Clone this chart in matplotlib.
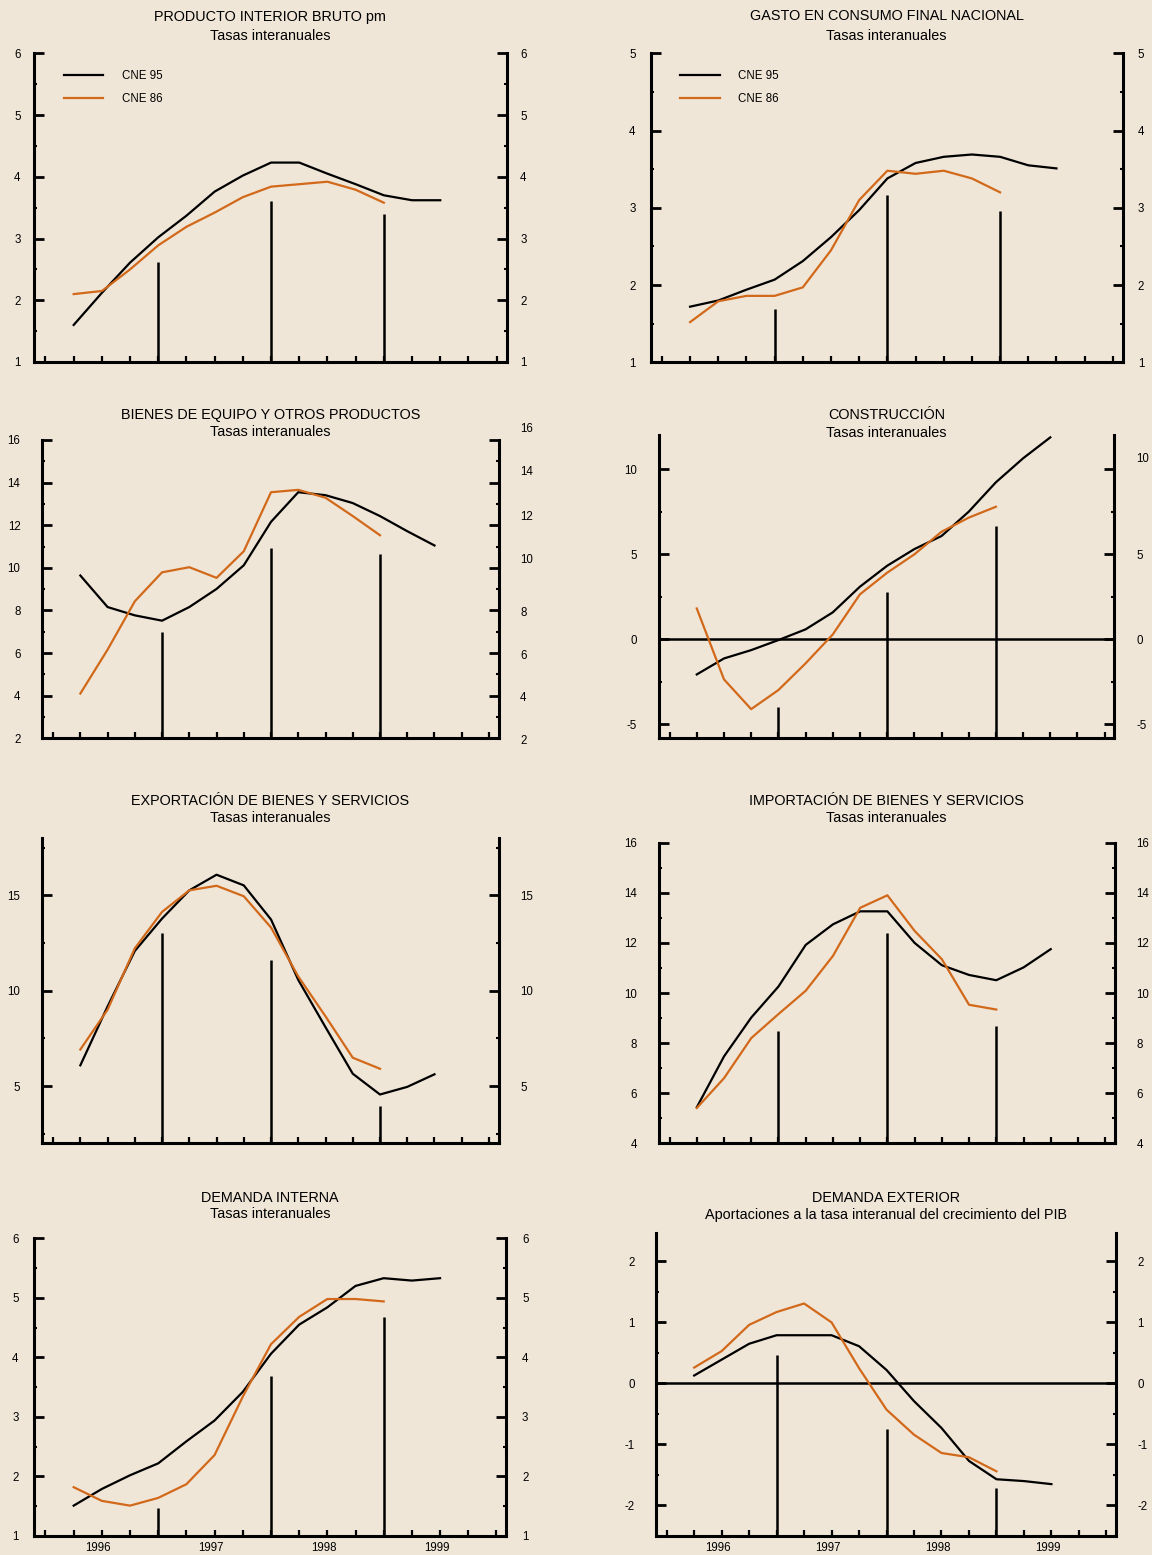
import numpy as np
import matplotlib
matplotlib.use("Agg")
import matplotlib.pyplot as plt
from matplotlib.ticker import MultipleLocator, FixedLocator
from matplotlib.transforms import blended_transform_factory

plt.rcParams['font.family'] = ['Liberation Sans', 'DejaVu Sans']

# ---------------- data ----------------
quarters = list(range(14))          # 1995-IV ... 1999-I
bar_quarters = [3, 7, 11]
year_labels = ['1996', '1997', '1998', '1999']
series_labels = ['CNE 95', 'CNE 86']

pib_cne95 = [1.60, 2.12, 2.61, 3.02, 3.37, 3.76, 4.02, 4.23, 4.23, 4.05, 3.88, 3.70, 3.62, 3.62]
pib_cne86 = [2.10, 2.15, 2.50, 2.89, 3.19, 3.42, 3.67, 3.84, 3.88, 3.92, 3.79, 3.58]
pib_bars = [2.62, 3.61, 3.40]

gasto_cne95 = [1.72, 1.80, 1.94, 2.07, 2.31, 2.62, 2.97, 3.38, 3.58, 3.66, 3.69, 3.66, 3.55, 3.51]
gasto_cne86 = [1.52, 1.79, 1.86, 1.86, 1.97, 2.45, 3.10, 3.48, 3.44, 3.48, 3.38, 3.20]
gasto_bars = [1.69, 3.17, 2.96]

equipo_cne95 = [9.64, 8.16, 7.77, 7.52, 8.16, 9.01, 10.12, 12.16, 13.55, 13.41, 13.04, 12.43, 11.72, 11.05]
equipo_cne86 = [4.10, 6.16, 8.43, 9.79, 10.03, 9.53, 10.78, 13.55, 13.66, 13.29, 12.43, 11.53]
equipo_bars = [7.00, 10.91, 10.66]

constr_cne95 = [-2.08, -1.14, -0.65, -0.06, 0.57, 1.57, 3.08, 4.31, 5.29, 6.06, 7.49, 9.22, 10.63, 11.86]
constr_cne86 = [1.80, -2.37, -4.12, -3.00, -1.43, 0.27, 2.63, 3.90, 4.98, 6.31, 7.14, 7.78]
constr_bars = [-3.98, 2.75, 6.67]

export_cne95 = [6.09, 9.18, 12.09, 13.79, 15.27, 16.09, 15.53, 13.74, 10.57, 8.09, 5.65, 4.56, 4.96, 5.62]
export_cne86 = [6.92, 9.01, 12.23, 14.14, 15.27, 15.51, 14.96, 13.32, 10.75, 8.66, 6.49, 5.91]
export_bars = [13.01, 11.62, 3.97]

import_cne95 = [5.44, 7.47, 9.02, 10.26, 11.92, 12.74, 13.26, 13.26, 12.00, 11.11, 10.72, 10.51, 11.02, 11.75]
import_cne86 = [5.41, 6.60, 8.20, 9.16, 10.09, 11.48, 13.40, 13.90, 12.48, 11.35, 9.53, 9.34]
import_bars = [8.47, 12.41, 8.69]

dint_cne95 = [1.51, 1.79, 2.02, 2.22, 2.59, 2.94, 3.42, 4.06, 4.55, 4.84, 5.20, 5.33, 5.29, 5.33]
dint_cne86 = [1.82, 1.59, 1.51, 1.64, 1.87, 2.36, 3.34, 4.22, 4.68, 4.98, 4.98, 4.94]
dint_bars = [1.47, 3.69, 4.67]

dext_cne95 = [0.13, 0.39, 0.65, 0.79, 0.79, 0.79, 0.61, 0.22, -0.29, -0.73, -1.27, -1.57, -1.60, -1.65]
dext_cne86 = [0.26, 0.53, 0.96, 1.17, 1.31, 1.00, 0.25, -0.43, -0.84, -1.14, -1.21, -1.44]
dext_bars = [0.47, -0.74, -1.71]

# ---------------- style / layout ----------------
W, H = 1152, 1555
BG = '#EFE6D8'
ORANGE = '#D2691A'
SMALL = 8.3
TITLE = 10.4

panels = [
    dict(title='PRODUCTO INTERIOR BRUTO pm', sub='Tasas interanuales',
         d95=pib_cne95, d86=pib_cne86, bars=pib_bars, ylim=(1, 6), major=1, minor=0.5,
         rect=(34.2, 53.3, 506.5, 362), ty=(16.5, 35.5), pad=9.8, legend=True),
    dict(title='GASTO EN CONSUMO FINAL NACIONAL', sub='Tasas interanuales',
         d95=gasto_cne95, d86=gasto_cne86, bars=gasto_bars, ylim=(1, 5), major=1, minor=0.5,
         rect=(650.6, 53.3, 1122.7, 362.3), ty=(16.5, 35.5), pad=10.8, legend=True),
    dict(title='BIENES DE EQUIPO Y OTROS PRODUCTOS', sub='Tasas interanuales',
         d95=equipo_cne95, d86=equipo_cne86, bars=equipo_bars, ylim=(2, 16), major=2, minor=1,
         rect=(42.2, 440, 498.5, 738.3), ty=(415.5, 432), pad=15.6,
         right_labels=(['16', '14', '12', '10', '8', '6', '4', '2'],
                       [16.61, 14.57, 12.47, 10.44, 7.96, 5.95, 3.96, 1.96])),
    dict(title='CONSTRUCCIÓN', sub='Tasas interanuales',
         d95=constr_cne95, d86=constr_cne86, bars=constr_bars, ylim=(-5.8, 12), major=5, minor=2.5,
         rect=(658.7, 435, 1114.2, 737.7), ty=(415, 433), pad=15.8, zero=True,
         right_labels=(['10', '5', '0', '-5'], [10.67, 5.0, 0.0, -5.0])),
    dict(title='EXPORTACIÓN DE BIENES Y SERVICIOS', sub='Tasas interanuales',
         d95=export_cne95, d86=export_cne86, bars=export_bars, ylim=(2, 18), major=5, minor=2.5,
         rect=(42.2, 838.3, 498.5, 1143.3), ty=(800.5, 817.5), pad=15.8),
    dict(title='IMPORTACIÓN DE BIENES Y SERVICIOS', sub='Tasas interanuales',
         d95=import_cne95, d86=import_cne86, bars=import_bars, ylim=(4, 16), major=2, minor=1,
         rect=(658.7, 842.7, 1114.7, 1143.3), ty=(800.5, 817.5), pad=15.8),
    dict(title='DEMANDA INTERNA', sub='Tasas interanuales',
         d95=dint_cne95, d86=dint_cne86, bars=dint_bars, ylim=(1, 6), major=1, minor=0.5,
         rect=(34.2, 1238.3, 506.3, 1536), ty=(1198.5, 1214.5), pad=11.3, xlabels=True),
    dict(title='DEMANDA EXTERIOR', sub='Aportaciones a la tasa interanual del crecimiento del PIB',
         d95=dext_cne95, d86=dext_cne86, bars=dext_bars, ylim=(-2.5, 2.47), major=1, minor=0.5,
         rect=(655.7, 1232.7, 1116, 1536), ty=(1198.5, 1214.5), pad=15.2, zero=True, xlabels=True),
]

fig = plt.figure(figsize=(W / 100, H / 100), dpi=100, facecolor=BG)

for p in panels:
    L, T, R, B = p['rect']
    ax = fig.add_axes([L / W, 1 - B / H, (R - L) / W, (B - T) / H])
    ax.set_facecolor(BG)
    ylo, yhi = p['ylim']

    if p.get('zero'):
        ax.axhline(0, color='black', lw=1.8, zorder=2)
    ax.vlines(bar_quarters, ylo, p['bars'], color='black', lw=1.8, zorder=2)
    ax.plot(quarters, p['d95'], color='black', lw=1.6, zorder=3, label=series_labels[0])
    ax.plot(quarters[:len(p['d86'])], p['d86'], color=ORANGE, lw=1.6, zorder=3,
            label=series_labels[1])

    ax.set_xlim(-1.4, 15.35)
    ax.set_ylim(ylo, yhi)

    ax.spines['top'].set_visible(False)
    for s in ('left', 'right', 'bottom'):
        ax.spines[s].set_linewidth(2.2)
        ax.spines[s].set_color('black')

    ax.yaxis.set_major_locator(MultipleLocator(p['major']))
    ax.yaxis.set_minor_locator(MultipleLocator(p['minor']))
    custom = 'right_labels' in p
    ax.tick_params(axis='y', which='major', direction='in', length=7, width=2,
                   left=True, right=True, labelleft=True, labelright=not custom,
                   labelsize=SMALL, pad=p['pad'], colors='black')
    ax.tick_params(axis='y', which='minor', direction='in', length=2.5, width=1.5,
                   left=True, right=True)
    ax.yaxis.set_major_formatter(plt.FuncFormatter(lambda v, pos: f'{v:g}'))

    ax.xaxis.set_minor_locator(FixedLocator(list(range(-1, 16))))
    ax.tick_params(axis='x', which='minor', direction='in', length=4.5, width=1.6,
                   bottom=True, top=False)
    ax.set_xticks([1 + 4 * i - 0.12 for i in range(len(year_labels))])
    ax.set_xticklabels(year_labels if p.get('xlabels') else [])
    ax.tick_params(axis='x', which='major', length=0, pad=4, labelsize=SMALL)

    if custom:
        labs, pos = p['right_labels']
        tr = blended_transform_factory(ax.transAxes, ax.transData)
        xoff = 1 + (p['pad'] * 100 / 72) / (R - L)
        for lab, yv in zip(labs, pos):
            ax.text(xoff, yv, lab, transform=tr, ha='left', va='center_baseline',
                    fontsize=SMALL, clip_on=False)

    if p.get('legend'):
        ax.legend(loc='upper left', bbox_to_anchor=(0.063, 0.947), frameon=False,
                  fontsize=SMALL, handlelength=3.4, handletextpad=1.6,
                  labelspacing=1.0, borderpad=0, borderaxespad=0)

    cx = (L + R) / 2 / W
    fig.text(cx, 1 - p['ty'][0] / H, p['title'], ha='center', va='center', fontsize=TITLE)
    fig.text(cx, 1 - p['ty'][1] / H, p['sub'], ha='center', va='center', fontsize=TITLE)

fig.savefig('out.png', dpi=100, facecolor=BG)
